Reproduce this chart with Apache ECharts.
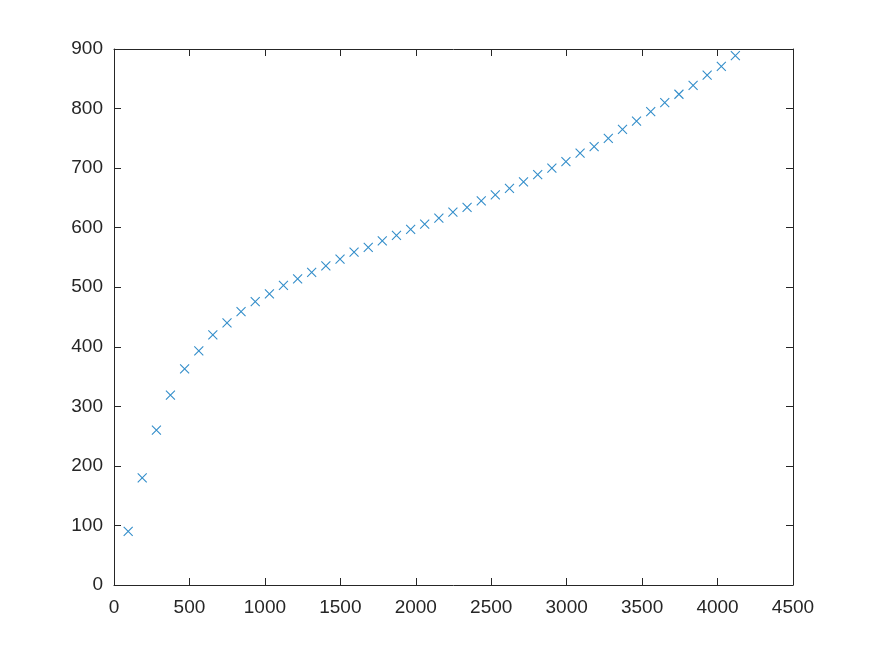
<!DOCTYPE html>
<html>
<head>
<meta charset="utf-8">
<script src="https://cdn.jsdelivr.net/npm/echarts@6/dist/echarts.min.js"></script>
<style>
html,body{margin:0;padding:0;background:#fff;}
#chart{width:875px;height:656px;}
</style>
</head>
<body>
<div id="chart"></div>
<script>
const xValues = [94, 187, 281, 374, 468, 562, 655, 749, 842, 936, 1030, 1123, 1217, 1310, 1404, 1498, 1591, 1685, 1778, 1872, 1966, 2059, 2153, 2246, 2340, 2434, 2527, 2621, 2714, 2808, 2902, 2995, 3089, 3182, 3276, 3370, 3463, 3557, 3650, 3744, 3838, 3931, 4025, 4118];
const yValues = [90, 180, 260, 319, 363, 393, 420, 440, 459, 476, 489, 503, 514, 525, 536, 547, 559, 567, 578, 587, 597, 606, 616, 626, 634, 645, 655, 666, 677, 689, 700, 711, 725, 736, 750, 765, 779, 795, 810, 824, 839, 856, 871, 889];
const xTicks = {min: 0, max: 4500, interval: 500};
const yTicks = {min: 0, max: 900, interval: 100};

const axisColor = '#262626';
const font = "'Liberation Sans', Arial, Helvetica, sans-serif";
const points = xValues.map((x, i) => [x, yValues[i]]);

function mkAxis(t, pos, showLabel, margin) {
  return {
    type: 'value', position: pos,
    min: t.min, max: t.max, interval: t.interval,
    axisLine: {show: true, onZero: false, lineStyle: {color: axisColor, width: 1}},
    axisTick: {show: true, inside: true, length: 7, lineStyle: {color: axisColor, width: 1}},
    axisLabel: {show: showLabel, color: axisColor, fontSize: 19, fontFamily: font, margin: margin,
                formatter: v => String(v)},
    splitLine: {show: false}
  };
}

const chart = echarts.init(document.getElementById('chart'), null, {renderer: 'canvas'});
chart.setOption({
  animation: false,
  backgroundColor: '#ffffff',
  grid: {left: 114, right: 82, top: 49, bottom: 71, containLabel: false},
  xAxis: [mkAxis(xTicks, 'bottom', true, 13), mkAxis(xTicks, 'top', false, 8)],
  yAxis: [mkAxis(yTicks, 'left', true, 11), mkAxis(yTicks, 'right', false, 8)],
  series: [{
    type: 'scatter',
    xAxisIndex: 0, yAxisIndex: 0,
    data: points,
    symbol: 'path://M0,0L10,10M10,0L0,10',
    symbolSize: 9,
    itemStyle: {color: 'rgba(0,0,0,0)', borderColor: '#0072BD', borderWidth: 1.1}
  }]
});
</script>
</body>
</html>
